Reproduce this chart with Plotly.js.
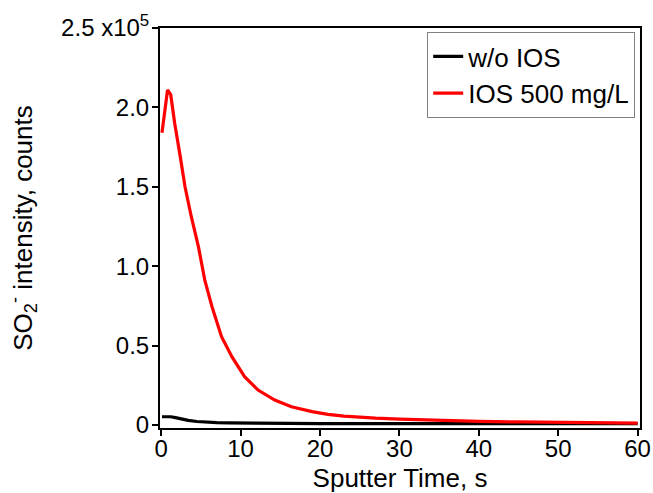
<!DOCTYPE html>
<html>
<head>
<meta charset="utf-8">
<script src="https://cdn.plot.ly/plotly-3.0.1.min.js"></script>
<style>html,body{margin:0;padding:0;background:#fff;}#chart{width:653px;height:493px;}</style>
</head>
<body>
<div id="chart"></div>
<script>
// Series: w/o IOS
var timeBlack = [0.1, 0.6, 1.2, 1.8, 2.5, 3.4, 4.5, 5.5, 7, 8.5, 10, 13, 16, 20, 25, 30, 40, 50, 60];
var countsBlack = [5200, 5400, 5200, 4600, 3700, 2900, 2200, 1800, 1500, 1300, 1150, 1000, 950, 900, 880, 860, 850, 820, 800];
// Series: IOS 500 mg/L
var timeRed = [0.1, 0.8, 1.2, 1.7, 2.4, 3.0, 3.8, 4.7, 5.5, 6.4, 7.6, 8.9, 10.5, 12.2, 14.3, 16.4, 19, 21, 23, 25, 27, 30, 33, 36, 40, 45, 50, 55, 60];
var countsRed = [184000, 211000, 208000, 190000, 169000, 150000, 131000, 112000, 91000, 74500, 55600, 43000, 30400, 22000, 15700, 11500, 8400, 6700, 5600, 4900, 4300, 3700, 3200, 2800, 2300, 1900, 1600, 1400, 1200];
// Tick labels
var yTickVals = [0, 50000, 100000, 150000, 200000, 250000];
var yTickText = ["0", "0.5", "1.0", "1.5", "2.0", "2.5 x10<sup>5</sup>"];
var xTickVals = [0, 10, 20, 30, 40, 50, 60];

var font = "Liberation Sans, Arial, Helvetica, sans-serif";

var traces = [
  {x: timeBlack, y: countsBlack, type: "scatter", mode: "lines", name: "w/o IOS",
   line: {color: "#000000", width: 3.2}},
  {x: timeRed, y: countsRed, type: "scatter", mode: "lines", name: "IOS 500 mg/L",
   line: {color: "#ff0000", width: 3.2}}
];

var layout = {
  width: 653, height: 493,
  margin: {l: 160, r: 13, t: 28, b: 65},
  paper_bgcolor: "#fff", plot_bgcolor: "#fff",
  font: {family: font, color: "#000", size: 24},
  showlegend: true,
  legend: {x: 0.99, y: 0.99, xanchor: "right", yanchor: "top",
    bordercolor: "#808080", borderwidth: 1, bgcolor: "#fff",
    font: {family: font, size: 26, color: "#000"}, tracegroupgap: 0},
  xaxis: {
    range: [-0.15, 60.3], tickvals: xTickVals, ticks: "outside", ticklen: 6, tickwidth: 2,
    tickcolor: "#000", showline: true, linecolor: "#000", linewidth: 2, mirror: true,
    showgrid: false, zeroline: false, tickfont: {size: 24, family: font},
    ticklabelstandoff: -8,
    title: {text: "Sputter Time, s", font: {size: 26, family: font}, standoff: 11}
  },
  yaxis: {
    range: [-1900, 250000], tickvals: yTickVals, ticktext: yTickText, ticks: "outside",
    ticklen: 6, tickwidth: 2, tickcolor: "#000", showline: true, linecolor: "#000",
    linewidth: 2, mirror: true, showgrid: false, zeroline: false,
    tickfont: {size: 24, family: font}, ticklabelstandoff: -2,
    title: {text: "SO<sub>2</sub><sup>-</sup> intensity, counts", font: {size: 26, family: font}, standoff: 21}
  }
};

Plotly.newPlot("chart", traces, layout, {displayModeBar: false, staticPlot: true});
</script>
</body>
</html>
